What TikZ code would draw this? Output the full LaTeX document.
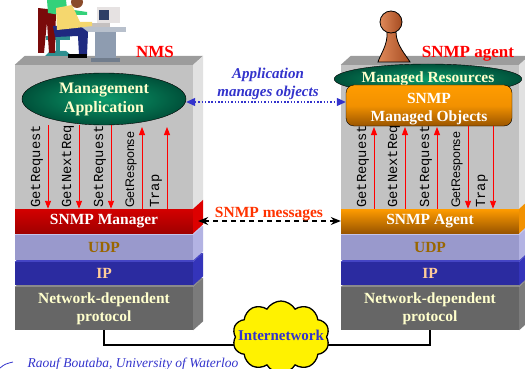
\documentclass[tikz,border=0pt]{standalone}
\usepackage{fontspec}
\setmainfont{Liberation Serif}
\setsansfont{Liberation Sans}
\setmonofont{Liberation Mono}
\usetikzlibrary{arrows.meta,positioning,shapes.geometric,shapes.symbols,calc,backgrounds}

\definecolor{boxfront}{HTML}{C2C2C2}
\definecolor{boxtop}{HTML}{9C9C9C}
\definecolor{boxside}{HTML}{E1E1E1}
\definecolor{mgrfront}{HTML}{D40000}
\definecolor{mgrdark}{HTML}{A00000}
\definecolor{mgrside}{HTML}{DD0000}
\definecolor{agtfront}{HTML}{FF9C00}
\definecolor{agtdark}{HTML}{9A5500}
\definecolor{agtside}{HTML}{F29100}
\definecolor{udpfront}{HTML}{9999CC}
\definecolor{udptop}{HTML}{C4C4EA}
\definecolor{udpside}{HTML}{B3B3E3}
\definecolor{udptext}{HTML}{996600}
\definecolor{ipfront}{HTML}{2B2BA0}
\definecolor{iptop}{HTML}{4545C4}
\definecolor{ipside}{HTML}{3434BA}
\definecolor{iptext}{HTML}{FFCC99}
\definecolor{netfront}{HTML}{666666}
\definecolor{nettop}{HTML}{8A8A8A}
\definecolor{netside}{HTML}{7B7B7B}
\definecolor{cream}{HTML}{FFFFCC}
\definecolor{appgreen}{HTML}{0B9B6B}
\definecolor{appdark}{HTML}{00513A}
\definecolor{inkblue}{HTML}{3333CC}
\definecolor{msgorange}{HTML}{FF3300}
\definecolor{deskgray}{HTML}{B8C0CC}
\definecolor{deskleg}{HTML}{8E9CB0}
\definecolor{screen}{HTML}{2E3F66}
\definecolor{shell}{HTML}{E6E2E2}
\definecolor{chair}{HTML}{2E8F8F}
\definecolor{shirtgreen}{HTML}{33D17A}
\definecolor{shirtyellow}{HTML}{F5D76E}
\definecolor{jeans}{HTML}{1F2A80}
\definecolor{trousers}{HTML}{7A0A0A}
\definecolor{skin}{HTML}{8A4B2A}
\definecolor{pawnlight}{HTML}{E08A5A}
\definecolor{pawndark}{HTML}{A44A20}

\tikzset{
  box/.style={rectangle, minimum width=178pt, inner sep=0pt, fill=boxfront},
  slab/.style={rectangle, minimum width=178pt, inner sep=0pt, align=center,
    font=\bfseries\fontsize{15.5}{18}\selectfont},
  title/.style={anchor=base, text=red, font=\bfseries\fontsize{17}{20}\selectfont},
  pdu/.style={red, line width=0.9pt, -{Triangle[width=6pt,length=8pt]}},
  pdulabel/.style={anchor=west, rotate=90, inner sep=0pt,
    font=\ttfamily\fontsize{13.8}{14}\selectfont},
  link/.style={line width=1.6pt},
}

% side and top faces of a block drawn as a node
\newcommand{\sideface}[2]{\fill[#2] (#1.north east) -- ++(10,-9) -- ($(#1.south east)+(10,-9)$) -- (#1.south east) -- cycle;}
\newcommand{\topface}[2]{\fill[#2] (#1.north west) -- ++(10,-9) -- ($(#1.north east)+(10,-9)$) -- (#1.north east) -- cycle;}

\begin{document}
\begin{tikzpicture}[x=1pt,y=-1pt]
\useasboundingbox (0,0) rectangle (525,369);

% the two boxes
\node[box, minimum height=144pt] (mbox) at (104,137) {};
\topface{mbox}{boxtop} \sideface{mbox}{boxside}
\node[box, minimum height=144pt] (abox) at (430,137) {};
\topface{abox}{boxtop} \sideface{abox}{boxside}

% workstation on top of the manager box
\fill[deskleg] (95,31) rectangle (116,61);
\fill[deskgray] (82,27) rectangle (126,32);
\fill[deskleg!80!black] (91,58) rectangle (120,62);
\fill[shell] (97,7) rectangle (120,23);
\fill[screen] (99,10) rectangle (109,20);
\fill[shell!85!black] (80,23) rectangle (110,27);
\fill[chair] (46,36) rectangle (70,40);
\fill[chair] (56,40) rectangle (60,52);
\fill[chair] (45,56) -- (50,51) -- (66,51) -- (72,56) -- cycle;
\fill[trousers] (38,8) -- (56,10) -- (55,53) -- (49,53) -- (47,22) -- (44,53) -- (38,53) -- cycle;
\fill[shirtgreen] (47,0) -- (66,0) -- (67,9) -- (87,12) -- (87,15) -- (60,15) -- (48,13) -- cycle;
\fill[jeans] (53,26) -- (80,26) -- (88,32) -- (87,55) -- (79,55) -- (78,36) -- (55,37) -- cycle;
\fill[shirtyellow] (56,8) -- (72,5) -- (80,22) -- (92,22) -- (92,26) -- (76,28) -- (57,30) -- cycle;
\fill[skin] (77,2) circle (6pt);
\fill[black] (68,54) rectangle (87,58);

% pawn on the agent box
\draw[left color=pawnlight, right color=pawndark, line width=0.8pt]
  (387,32) .. controls (388,45) and (380,55) .. (378,62) -- (410,62)
  .. controls (406,55) and (396,45) .. (396,32) -- cycle;
\draw[left color=pawnlight, right color=pawndark, line width=0.8pt] (391,22) circle (11pt);

\node[title] (nmstitle) at (155,58) {NMS};
\node[title] (agttitle) at (468,58) {SNMP agent};

% protocol stacks
\foreach \p/\cx in {m/104,a/430}{
  \node[slab, fill=netfront, text=cream, minimum height=43pt] (\p-net) at (\cx,308.5) {Network-dependent\\protocol};
  \topface{\p-net}{nettop} \sideface{\p-net}{netside}
  \node[slab, fill=ipfront, text=iptext, minimum height=23pt] (\p-ip) at (\cx,273.5) {IP};
  \topface{\p-ip}{iptop} \sideface{\p-ip}{ipside}
  \node[slab, fill=udpfront, text=udptext, minimum height=25pt] (\p-udp) at (\cx,247.5) {UDP};
  \topface{\p-udp}{udptop} \sideface{\p-udp}{udpside}
}
\node[slab, top color=mgrfront, bottom color=mgrdark, text=white, minimum height=24pt] (mgr) at (104,221) {SNMP Manager};
\sideface{mgr}{mgrside}
\node[slab, top color=agtfront, bottom color=agtdark, text=white, minimum height=24pt] (agt) at (430,221) {SNMP Agent};
\sideface{agt}{agtside}

% applications
\node[ellipse, draw=black, inner color=appgreen, outer color=appdark, minimum width=164pt,
  minimum height=52pt, inner sep=0pt, align=center, text=cream,
  font=\bfseries\fontsize{16}{19}\selectfont] (app) at (104,99) {Management\\Application};
\node[ellipse, draw=black, inner color=appgreen, outer color=appdark, minimum width=168pt,
  minimum height=30pt, inner sep=0pt, text=cream,
  font=\bfseries\fontsize{15.5}{18}\selectfont] (res) at (428,79) {Managed Resources};
\node[rectangle, rounded corners=8pt, draw=black, top color=agtfront, bottom color=agtdark,
  middle color=agtside, minimum width=166pt, minimum height=41pt, inner sep=0pt, align=center,
  text=white, font=\bfseries\fontsize{15.5}{18}\selectfont] (mo) at (429,105.5) {\rule{0pt}{17pt}SNMP\\Managed Objects};

% manager side operations
\foreach \dx/\cmd [count=\i] in {33/GetRequest,64/GetNextReq,96/SetRequest}{
  \coordinate (m-top\i) at (15+\dx,125);
  \draw[pdu] (m-top\i) -- (m-top\i |- mgr.north);
  \node[pdulabel] (m-lbl\i) at (4+\dx,208) {\cmd};
}
\foreach \dx/\cmd [count=\i from 4] in {127/{\sffamily\fontsize{12.4}{13}\selectfont GetResponse},152/Trap}{
  \coordinate (m-top\i) at (15+\dx,127);
  \draw[pdu] (m-top\i |- mgr.north) -- (m-top\i);
  \node[pdulabel] (m-lbl\i) at (4+\dx,208) {\cmd};
}
% agent side operations
\foreach \dx/\cmd [count=\i] in {33/GetRequest,64/GetNextReq,96/SetRequest}{
  \coordinate (a-top\i) at (341+\dx,127);
  \draw[pdu] (a-top\i |- agt.north) -- (a-top\i);
  \node[pdulabel] (a-lbl\i) at (330+\dx,208) {\cmd};
}
\foreach \dx/\cmd [count=\i from 4] in {127/{\sffamily\fontsize{12.4}{13}\selectfont GetResponse},152/Trap}{
  \coordinate (a-top\i) at (341+\dx,126);
  \draw[pdu] (a-top\i) -- (a-top\i |- agt.north);
  \node[pdulabel] (a-lbl\i) at (330+\dx,208) {\cmd};
}

% between the two sides
\draw[inkblue, line width=1.2pt, dash pattern=on 1.5pt off 1.8pt,
  {Triangle[width=8pt,length=9pt]}-{Triangle[width=8pt,length=9pt]}] ([yshift=-3pt]app.east) -- ([yshift=-3pt]app.east -| mo.west);
\node[align=center, text=inkblue, font=\bfseries\itshape\fontsize{15}{18}\selectfont] (applbl) at (268,83.5) {Application\\manages objects};
\draw[line width=1.2pt, dash pattern=on 5pt off 4pt,
  {Stealth[width=8pt,length=10pt]}-{Stealth[width=8pt,length=10pt]}] ([xshift=5pt]mgr.east) -- (agt.west);
\node[anchor=base, text=msgorange, font=\bfseries\fontsize{15.5}{18}\selectfont] (msglbl) at (269,217) {SNMP messages};

% internetwork
\node[cloud, cloud puffs=10, cloud puff arc=120, cloud ignores aspect, fill=yellow, draw=black,
  line width=1.3pt, minimum width=97pt, minimum height=72pt] (net) at (281,337) {};
\node[text=inkblue, font=\bfseries\fontsize{15}{18}\selectfont] (netlbl) at ([yshift=2pt]net.center) {Internetwork};
\begin{scope}[on background layer]
\draw[link] (m-net.south) |- ([yshift=-8pt]net.center);
\draw[link] (a-net.south) |- ([yshift=-8pt]net.center);
\end{scope}

\draw[inkblue, line width=0.8pt] (0,368) .. controls (5,364) .. (13,362);
\node[anchor=base, text=inkblue, font=\itshape\fontsize{13.5}{16}\selectfont] (credit) at (133,367) {Raouf Boutaba, University of Waterloo};
\end{tikzpicture}
\end{document}
